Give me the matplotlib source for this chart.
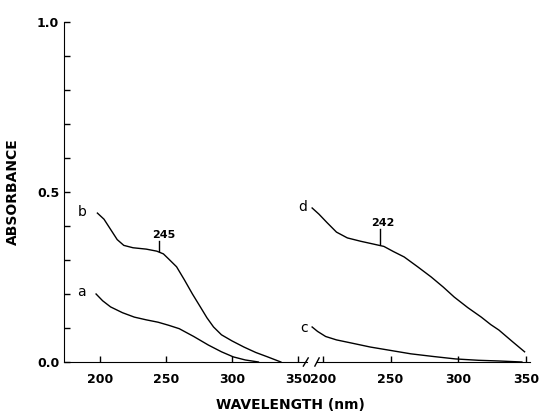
import numpy as np
import matplotlib.pyplot as plt

# spectra, left panel (a, b) and right panel (c, d)
wl_a = [197, 202, 208, 217, 226, 235, 244, 252, 260, 271, 282, 292, 301, 310, 320]
abs_a = [0.20, 0.18, 0.162, 0.145, 0.132, 0.124, 0.117, 0.108, 0.098, 0.075, 0.05, 0.03, 0.015, 0.006, 0.0]
wl_b = [198, 203, 208, 213, 218, 225, 235, 243, 248, 252, 258, 264, 270, 276, 281, 286,
        292, 300, 309, 318, 327, 337]
abs_b = [0.438, 0.42, 0.39, 0.36, 0.343, 0.336, 0.332, 0.326, 0.318, 0.303, 0.28, 0.241,
         0.2, 0.162, 0.13, 0.103, 0.08, 0.062, 0.044, 0.028, 0.015, 0.0]
wl_c = [192, 196, 202, 210, 222, 235, 250, 265, 282, 298, 315, 330, 347]
abs_c = [0.103, 0.09, 0.075, 0.065, 0.055, 0.044, 0.034, 0.024, 0.016, 0.009, 0.005, 0.003, 0.0]
wl_d = [192, 197, 203, 210, 218, 228, 236, 245, 252, 260, 270, 280, 289, 297, 307, 317,
        324, 330, 340, 349]
abs_d = [0.453, 0.435, 0.41, 0.382, 0.365, 0.355, 0.348, 0.34, 0.325, 0.309, 0.28, 0.25,
         0.22, 0.191, 0.16, 0.132, 0.11, 0.094, 0.06, 0.03]

xticks = [200, 250, 300, 350]
font = dict(family='DejaVu Sans', fontweight='bold')

fig = plt.figure(figsize=(5.44, 4.18), dpi=100)
ax1 = fig.add_axes([64/544, 1-362/418, 243/544, 340/418])
ax2 = fig.add_axes([317/544, 1-362/418, 213/544, 340/418])

ax1.plot(wl_a, abs_a, color='black', lw=1.0)
ax1.plot(wl_b, abs_b, color='black', lw=1.0)
ax2.plot(wl_c, abs_c, color='black', lw=1.0, clip_on=False)
ax2.plot(wl_d, abs_d, color='black', lw=1.0, clip_on=False)

ax1.set_xlim(172.7, 356.8)
ax2.set_xlim(195.6, 353)
for ax in (ax1, ax2):
    ax.set_ylim(0, 1.0)
    ax.spines['top'].set_visible(False)
    ax.spines['right'].set_visible(False)
    ax.set_xticks(xticks)
    ax.set_xticklabels([str(t) for t in xticks], fontsize=9, **font)
    ax.tick_params(axis='x', direction='in', length=4, width=1, pad=8)
ax2.spines['left'].set_visible(False)
ax2.set_yticks([])

ax1.set_yticks(np.arange(0, 1.01, 0.1), minor=True)
ax1.set_yticks([0.0, 0.5, 1.0])
ax1.set_yticklabels(['0.0', '0.5', '1.0'], fontsize=9, **font)
ax1.tick_params(axis='y', which='both', direction='in', length=4, width=1)

# axis break marks
kw = dict(color='black', lw=1, clip_on=False)
ax1.plot([0.985, 1.005], [-0.012, 0.012], transform=ax1.transAxes, **kw)
ax2.plot([-0.01, 0.01], [-0.012, 0.012], transform=ax2.transAxes, **kw)

# curve labels and peak markers
ax1.text(190, 0.44, 'b', fontsize=10, ha='right', va='center', family='DejaVu Sans')
ax1.text(189, 0.205, 'a', fontsize=10, ha='right', va='center', family='DejaVu Sans')
ax2.text(188, 0.455, 'd', fontsize=10, ha='right', va='center', family='DejaVu Sans', clip_on=False)
ax2.text(189, 0.10, 'c', fontsize=10, ha='right', va='center', family='DejaVu Sans', clip_on=False)
ax1.plot([245, 245], [0.327, 0.355], color='black', lw=1)
ax1.text(248, 0.36, '245', fontsize=8, ha='center', va='bottom', **font)
ax2.plot([242, 242], [0.347, 0.39], color='black', lw=1)
ax2.text(244, 0.395, '242', fontsize=8, ha='center', va='bottom', **font)

ax1.set_ylabel('ABSORBANCE', fontsize=10, labelpad=12, **font)
fig.text(290/544, 1-405/418, 'WAVELENGTH (nm)', fontsize=10, ha='center', va='center', **font)

fig.savefig('out.png', dpi=100)
